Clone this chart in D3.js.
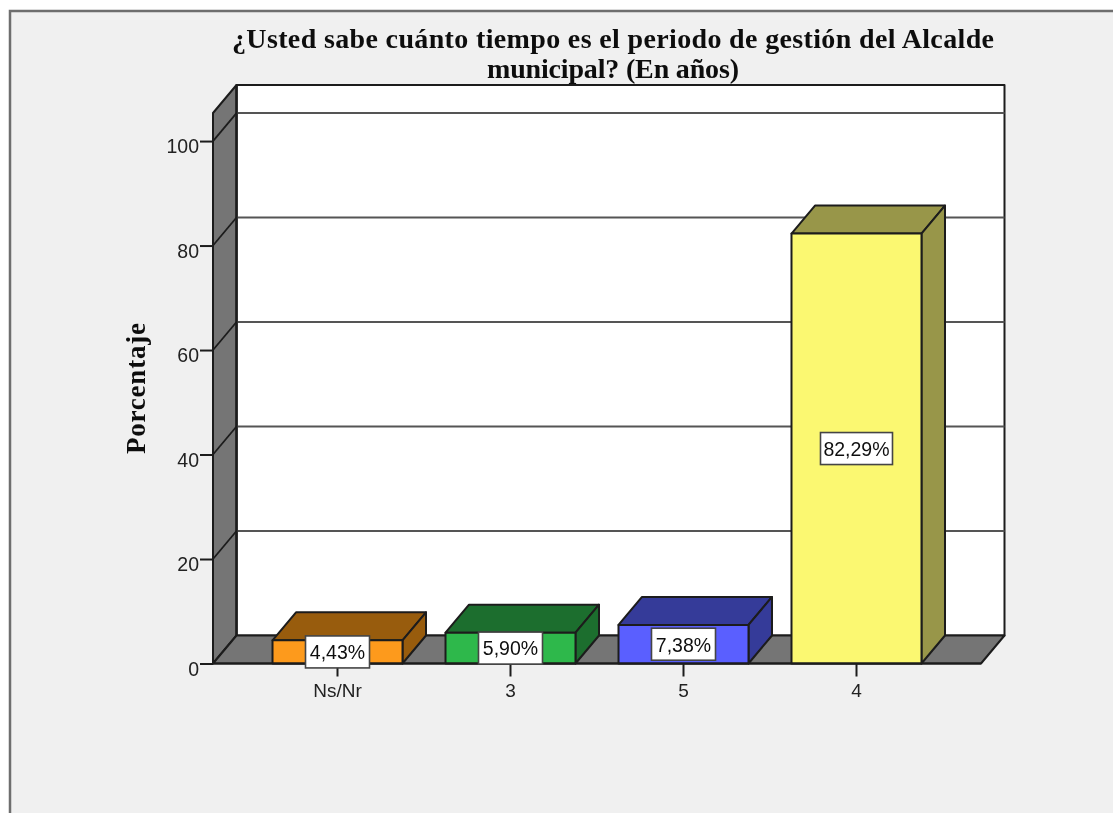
<!DOCTYPE html>
<html><head><meta charset="utf-8">
<script src="https://cdnjs.cloudflare.com/ajax/libs/d3/7.8.5/d3.min.js"></script>
<style>html,body{margin:0;padding:0;background:#fff;overflow:hidden}svg{display:block;}</style>
</head><body><svg id="c" width="1113" height="813"><defs><filter id="soft" x="0" y="0" width="100%" height="100%" filterUnits="userSpaceOnUse"><feGaussianBlur stdDeviation="0.55"/></filter></defs></svg>
<script>
const categories = ["Ns/Nr","3","5","4"];
const values = [4.43,5.90,7.38,82.29];
const valueLabels = ["4,43%","5,90%","7,38%","82,29%"];
const frontColors = ["#fd9a1c","#2db84b","#5a5fff","#fbf871"];
const sideColors = ["#985c10","#1c6e2e","#363a99","#98964a"];
const yTicks = [0,20,40,60,80,100];
const titleLines = ["¿Usted sabe cuánto tiempo es el periodo de gestión del Alcalde","municipal? (En años)"];
const titleWidths = [762,252];
const yTitle = "Porcentaje";

const dx = 23.5, dy = -28;
const x = d3.scaleBand().domain(categories).range([213,981]).paddingInner(0.2486).paddingOuter(0.344);
const y = d3.scaleLinear().domain([0,105.37]).range([663.5,113]);
const ink = "#1c1c1c", wall = "#757575";
const svg = d3.select("#c");
const g = svg.append("g").attr("filter","url(#soft)");
g.append("rect").attr("x",0).attr("y",0).attr("width",1113).attr("height",813).attr("fill","#fff");
g.append("rect").attr("x",10).attr("y",11).attr("width",1140).attr("height",840).attr("fill","#f0f0f0").attr("stroke","#6e6e6e").attr("stroke-width",2.5);

const x0 = x.range()[0], x1 = x.range()[1], y0 = y(0), yT = y.range()[1];
const poly = (pts,fill,sw=2)=>g.append("polygon").attr("points",pts.map(p=>p.join(",")).join(" ")).attr("fill",fill).attr("stroke",ink).attr("stroke-width",sw).attr("stroke-linejoin","round");
// back wall, left wall, floor
poly([[x0+dx,yT+dy],[x1+dx,yT+dy],[x1+dx,y0+dy],[x0+dx,y0+dy]],"#fff");
poly([[x0,yT],[x0+dx,yT+dy],[x0+dx,y0+dy],[x0,y0]],wall);
poly([[x0,y0],[x0+dx,y0+dy],[x1+dx,y0+dy],[x1,y0]],wall);
// gridlines
yTicks.filter(t=>t>0).forEach(t=>{
  g.append("path").attr("d",`M${x0},${y(t)}L${x0+dx},${y(t)+dy}`).attr("stroke",ink).attr("stroke-width",1.8).attr("fill","none");
  g.append("path").attr("d",`M${x0+dx},${y(t)+dy}L${x1+dx},${y(t)+dy}`).attr("stroke","#555").attr("stroke-width",2).attr("fill","none");
});
g.append("path").attr("d",`M${x0+dx},${yT+dy}V${y0+dy}`).attr("stroke",ink).attr("stroke-width",2.2);

// axes
const yAxis = d3.axisLeft(y).tickValues(yTicks).tickSize(13).tickPadding(1).tickFormat(d3.format("d"));
const ya = g.append("g").attr("transform",`translate(${x0},0)`).call(yAxis);
ya.select(".domain").remove();
ya.selectAll("line").attr("stroke",ink).attr("stroke-width",2);
ya.selectAll("text").attr("font-family","Liberation Sans").attr("font-size",19.5).attr("fill","#222").attr("dy","0.6em");
const xAxis = d3.axisBottom(x).tickSize(13).tickPadding(7);
const xa = g.append("g").attr("transform",`translate(0,${y0})`).call(xAxis);
xa.select(".domain").remove();
xa.selectAll("line").attr("stroke",ink).attr("stroke-width",2);
xa.selectAll("text").attr("font-family","Liberation Sans").attr("font-size",19).attr("fill","#222");

// bars
categories.forEach((c,i)=>{
  const l=x(c), r=l+x.bandwidth(), t=y(values[i]);
  poly([[l,t],[l+dx,t+dy],[r+dx,t+dy],[r,t]],sideColors[i]);
  poly([[r,t],[r+dx,t+dy],[r+dx,y0+dy],[r,y0]],sideColors[i]);
  poly([[l,t],[r,t],[r,y0],[l,y0]],frontColors[i]);
});
// floor front edge on top
g.append("path").attr("d",`M${x0},${y0}H${x1}`).attr("stroke",ink).attr("stroke-width",2.2);

// value labels
categories.forEach((c,i)=>{
  const cx=x(c)+x.bandwidth()/2, cy=y(values[i]/2);
  const w=i==3?72:64, h=32;
  g.append("rect").attr("x",cx-w/2).attr("y",cy-h/2).attr("width",w).attr("height",h).attr("fill","#fff").attr("stroke","#444").attr("stroke-width",1.6);
  g.append("text").attr("x",cx).attr("y",cy).attr("dy","0.38em").attr("text-anchor","middle").attr("font-family","Liberation Sans").attr("font-size",19.5).attr("fill","#111").text(valueLabels[i]);
});
// titles
titleLines.forEach((s,i)=>{
  g.append("text").attr("x",613).attr("y",48+i*30).attr("text-anchor","middle").attr("font-family","Liberation Serif").attr("font-weight","bold").attr("font-size",28).attr("fill","#111").attr("textLength",titleWidths[i]).attr("lengthAdjust","spacing").text(s);
});
g.append("text").attr("transform","translate(145,388.5) rotate(-90)").attr("text-anchor","middle").attr("font-family","Liberation Serif").attr("font-weight","bold").attr("font-size",27).attr("fill","#111").attr("textLength",131).attr("lengthAdjust","spacing").text(yTitle);
</script></body></html>
